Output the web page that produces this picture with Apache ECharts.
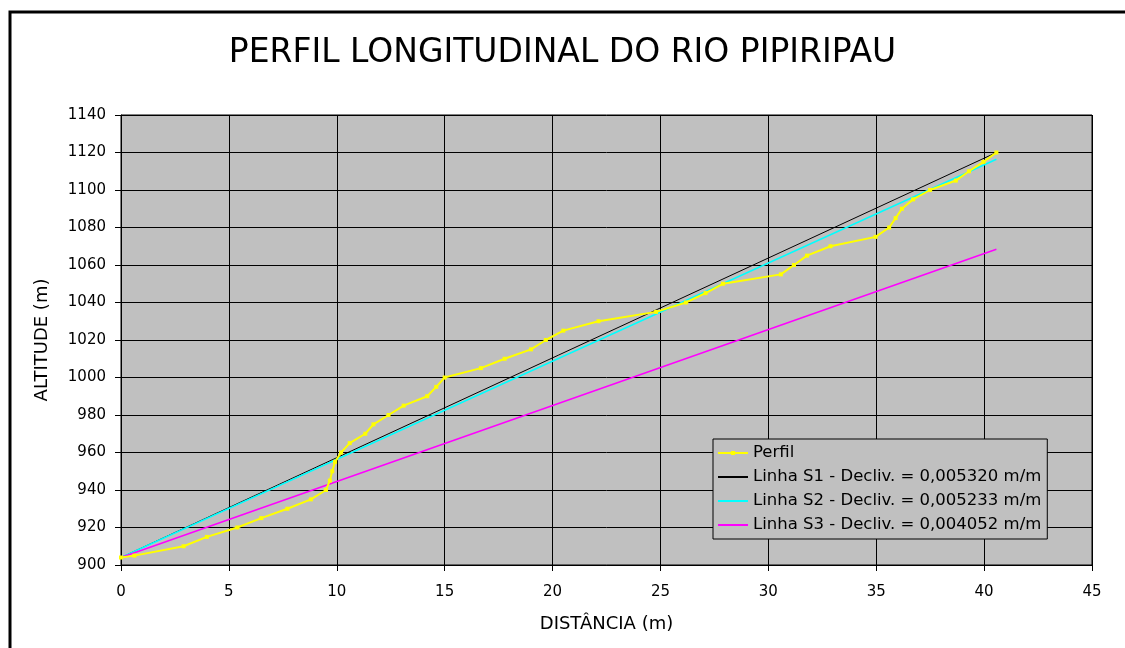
<!DOCTYPE html>
<html>
<head>
<meta charset="utf-8">
<title>Perfil longitudinal do Rio Pipiripau</title>
<script src="https://cdn.jsdelivr.net/npm/echarts@6/dist/echarts.min.js"></script>
<style>
  html, body { margin: 0; padding: 0; background: #fff; }
  #chart { width: 1125px; height: 648px; }
</style>
</head>
<body>
<div id="chart"></div>
<script>
// perfil do rio: distancia x altitude
const distancias = [0, 0.62, 2.9, 3.98, 5.39, 6.5, 7.71, 8.8, 9.5, 9.68, 9.79, 9.92, 10.2, 10.6,
  11.32, 11.7, 12.4, 13.1, 14.19, 14.61, 15.0, 16.68, 17.78, 19.0, 19.69, 20.5, 22.13, 24.8,
  26.18, 27.09, 27.9, 30.58, 31.19, 31.79, 32.88, 34.97, 35.6, 35.9, 36.19, 36.71, 37.49,
  38.69, 39.3, 39.97, 40.57]
const altitudes = [904, 905, 910, 915, 920, 925, 930, 935, 940, 945, 950, 955, 960, 965,
  970, 975, 980, 985, 990, 995, 1000, 1005, 1010, 1015, 1020, 1025, 1030, 1035,
  1040, 1045, 1050, 1055, 1060, 1065, 1070, 1075, 1080, 1085, 1090, 1095, 1100,
  1105, 1110, 1115, 1120]

// linhas de declividade (inicio e fim)
const linhaS1 = [[0, 904], [40.57, 1120]]
const linhaS2 = [[0, 904], [40.57, 1116.4]]
const linhaS3 = [[0, 904], [40.57, 1068.4]]

const nomes = [
  'Perfil',
  'Linha S1 - Decliv. = 0,005320 m/m',
  'Linha S2 - Decliv. = 0,005233 m/m',
  'Linha S3 - Decliv. = 0,004052 m/m'
]

const fonte = 'DejaVu Sans, Liberation Sans, Arial, sans-serif'
const iconeLinha = 'path://M0,0 L30,0 L30,2 L0,2 Z'
const iconePerfil = 'path://M0,1 L30,1 L30,3 L0,3 Z M13,0 L17,0 L17,4 L13,4 Z'

const chart = echarts.init(document.getElementById('chart'))

chart.setOption({
  animation: false,
  textStyle: { fontFamily: fonte, color: '#000' },
  title: {
    text: 'PERFIL LONGITUDINAL DO RIO PIPIRIPAU',
    left: 'center',
    top: 32,
    textStyle: { fontFamily: fonte, fontSize: 33, fontWeight: 'normal', color: '#000' }
  },
  graphic: [{
    type: 'rect',
    shape: { x: 10, y: 12, width: 1200, height: 700 },
    style: { fill: 'none', stroke: '#000', lineWidth: 3 },
    silent: true
  }],
  grid: {
    left: 121,
    top: 115,
    right: 33,
    bottom: 83,
    show: true,
    backgroundColor: '#c0c0c0',
    borderColor: '#000',
    borderWidth: 1
  },
  legend: {
    data: [
      { name: nomes[0], icon: iconePerfil },
      { name: nomes[1], icon: iconeLinha },
      { name: nomes[2], icon: iconeLinha },
      { name: nomes[3], icon: iconeLinha }
    ],
    orient: 'vertical',
    left: 713,
    top: 439,
    padding: [5, 6, 5, 5],
    itemGap: 6,
    itemWidth: 30,
    itemHeight: 14,
    backgroundColor: '#c0c0c0',
    borderColor: '#000',
    borderWidth: 1,
    textStyle: { fontFamily: fonte, fontSize: 16.5, lineHeight: 18, color: '#000' }
  },
  xAxis: {
    type: 'value',
    min: 0,
    max: 45,
    interval: 5,
    name: 'DISTÂNCIA (m)',
    nameLocation: 'middle',
    nameGap: 50,
    nameTextStyle: { fontFamily: fonte, fontSize: 18, color: '#000' },
    axisLine: { lineStyle: { color: '#000', width: 1 } },
    axisTick: { show: true, length: 6, lineStyle: { color: '#000' } },
    axisLabel: { fontFamily: fonte, fontSize: 15, color: '#000', margin: 20 },
    splitLine: { show: true, lineStyle: { color: '#000', width: 1 } }
  },
  yAxis: {
    type: 'value',
    min: 900,
    max: 1140,
    interval: 20,
    name: 'ALTITUDE (m)',
    nameLocation: 'middle',
    nameGap: 70,
    nameTextStyle: { fontFamily: fonte, fontSize: 18, color: '#000' },
    axisLine: { show: true, lineStyle: { color: '#000', width: 1 } },
    axisTick: { show: true, length: 6, lineStyle: { color: '#000' } },
    axisLabel: {
      fontFamily: fonte, fontSize: 15, color: '#000', margin: 15,
      formatter: v => String(v)
    },
    splitLine: { show: true, lineStyle: { color: '#000', width: 1 } }
  },
  series: [
    {
      name: nomes[1],
      type: 'line',
      data: linhaS1,
      symbol: 'none',
      lineStyle: { color: '#000', width: 1 },
      itemStyle: { color: '#000' }
    },
    {
      name: nomes[2],
      type: 'line',
      data: linhaS2,
      symbol: 'none',
      lineStyle: { color: '#00ffff', width: 1.5 },
      itemStyle: { color: '#00ffff' }
    },
    {
      name: nomes[3],
      type: 'line',
      data: linhaS3,
      symbol: 'none',
      lineStyle: { color: '#ff00ff', width: 1.5 },
      itemStyle: { color: '#ff00ff' }
    },
    {
      name: nomes[0],
      type: 'line',
      data: distancias.map((d, i) => [d, altitudes[i]]),
      symbol: 'rect',
      symbolSize: 4,
      lineStyle: { color: '#ffff00', width: 2 },
      itemStyle: { color: '#ffff00' }
    }
  ]
})
</script>
</body>
</html>
